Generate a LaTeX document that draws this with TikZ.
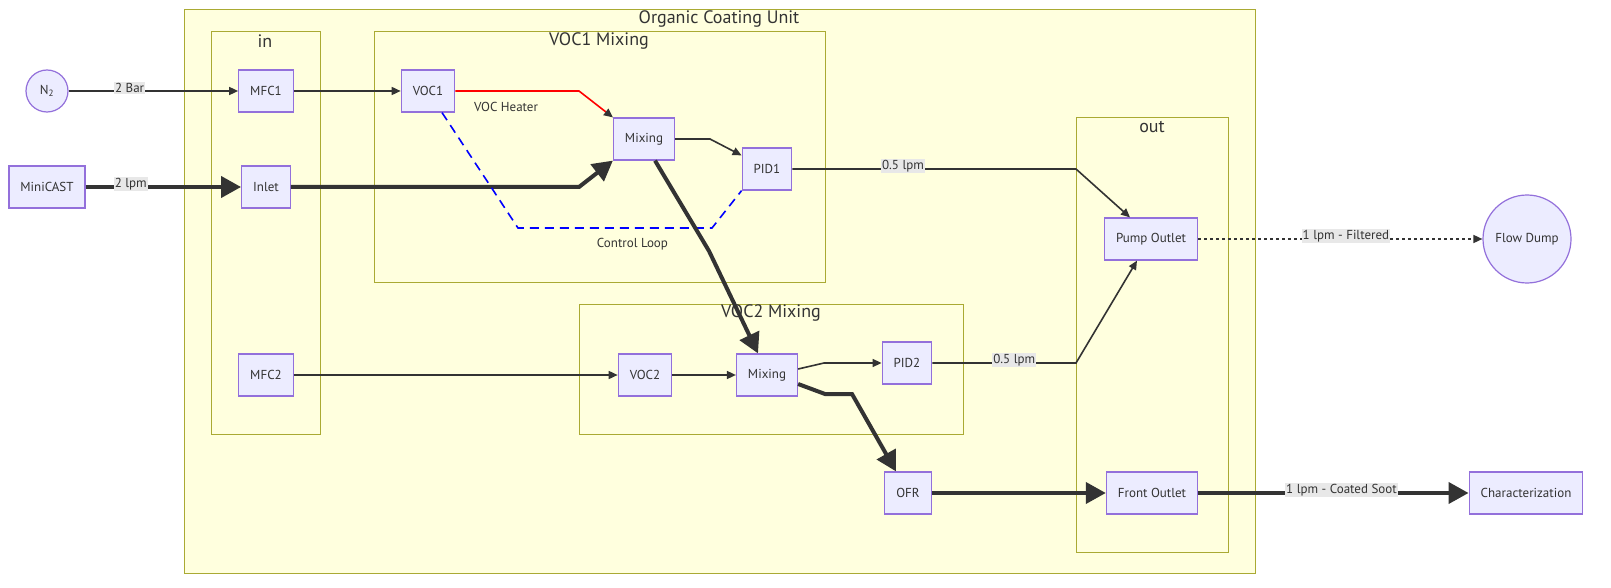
\documentclass[tikz,border=0pt]{standalone}
\usepackage{fontspec}
\setmainfont{PT Sans}
\usetikzlibrary{arrows.meta}
\definecolor{nodefill}{HTML}{ECECFF}
\definecolor{nodeline}{HTML}{9370DB}
\definecolor{unitfill}{HTML}{FFFFDE}
\definecolor{unitline}{HTML}{AAAA33}
\definecolor{edgegray}{HTML}{333333}
\definecolor{labelbg}{HTML}{E8E8E8}
\tikzset{%
        x = 1pt,
        y = -1pt,
        font = \fontsize{13}{15}\selectfont,
        text = edgegray
}
\tikzstyle{box}=[
    draw = nodeline,
    fill = nodefill,
    line width = 1.2pt,
    minimum height = 42pt,
    inner xsep = 11.5pt
]
\tikzstyle{round box}=[
    box,
    circle,
    inner sep = 0pt
]
\tikzstyle{unit}=[
    draw = unitline,
    fill = unitfill,
    line width = 0.9pt
]
\tikzstyle{unit title}=[
    font = \fontsize{18}{21}\selectfont
]
\tikzstyle{flow}=[
    draw = edgegray,
    line width = 1.6pt,
    -{Triangle[length=9pt,width=8pt]}
]
\tikzstyle{fat flow}=[
    flow,
    line width = 4pt,
    -{Triangle[length=20pt,width=21pt]}
]
\tikzstyle{lbl}=[
    fill = labelbg,
    inner sep = 1pt,
    yshift = 3pt
]

\begin{document}
\begin{tikzpicture}
        \useasboundingbox[fill=white] (0,0) rectangle (1611,588);
        \draw[unit] (184,9) rectangle (1255,573);
        \node[unit title] (t0) at (719,19) {Organic Coating Unit};
        \draw[unit] (211,31) rectangle (320,434);
        \node[unit title] (t1) at (265,41) {in};
        \draw[unit] (374,31) rectangle (825,282);
        \node[unit title] (t2) at (599,41) {VOC1 Mixing};
        \draw[unit] (579,304) rectangle (963,434);
        \node[unit title] (t3) at (771,313) {VOC2 Mixing};
        \draw[unit] (1076,117) rectangle (1228,552);
        \node[unit title] (t4) at (1152,127) {out};

        \node[round box, minimum size=42pt] (n2) at (47,91) {N\textsubscript{2}};
        \node[box] (minicast) at (47,187) {MiniCAST};
        \node[box] (mfc1) at (266,91) {MFC1};
        \node[box] (inlet) at (266,187) {Inlet};
        \node[box] (mfc2) at (266,375) {MFC2};
        \node[box] (voc1) at (428,91) {VOC1};
        \node[box] (mixa) at (644,139) {Mixing};
        \node[box] (pida) at (767,169) {PID1};
        \node[box] (voc2) at (645,375) {VOC2};
        \node[box] (mixb) at (767,375) {Mixing};
        \node[box] (pidb) at (907,363) {PID2};
        \node[box] (ofr) at (908,493) {OFR};
        \node[box] (pump) at (1151,239) {Pump Outlet};
        \node[box] (front) at (1152,493) {Front Outlet};
        \node[round box, minimum size=88pt] (dump) at (1527,239) {Flow Dump};
        \node[box] (charac) at (1526,493) {Characterization};

        \draw[flow] (n2) -- node[lbl, pos=0.36] {2 Bar} (mfc1);
        \draw[fat flow] (minicast) -- node[lbl, pos=0.29] {2 lpm} (inlet);
        \draw[flow] (mfc1) -- (voc1);
        \draw[flow, draw=red, -{Triangle[length=9pt,width=8pt,color=edgegray]}]
          (voc1.east) -- node[pos=0.41, below=7pt] {VOC Heater} (579,91) -- (mixa.north west);
        \draw[fat flow] (inlet) -- (579,187) -- (mixa.south west);
        \draw[flow] (mixa.east) -- (710,139) -- ([yshift=-8pt]pida.north west);
        \draw[draw=blue, line width=1.6pt, dash pattern=on 9pt off 6pt]
          ([xshift=14pt]voc1.south) -- (518,228)
          -- node[pos=0.59, below=6pt] {Control Loop} (712,228) -- (pida.south west);
        \draw[flow] (pida.east) -- node[lbl, pos=0.39] {0.5 lpm} (1076,169)
          -- ([xshift=-21pt]pump.north);
        \draw[fat flow] ([xshift=11pt]mixa.south) -- (709,251) -- ([xshift=-9pt]mixb.north);
        \draw[flow] (mfc2) -- (voc2);
        \draw[flow] (voc2) -- (mixb);
        \draw[flow] ([yshift=6pt]mixb.east) -- (824,363) -- (pidb.west);
        \draw[fat flow] ([yshift=-9pt]mixb.east) -- (825,394) -- (852,394)
          -- ([xshift=-12pt]ofr.north);
        \draw[flow] (pidb.east) -- node[lbl, pos=0.57] {0.5 lpm} (1076,363)
          -- ([xshift=-14pt]pump.south);
        \draw[fat flow] (ofr) -- (front);
        \draw[flow, dash pattern=on 3pt off 3pt] (pump) -- node[lbl, pos=0.52] {1 lpm - Filtered} (dump);
        \draw[fat flow] (front) -- node[lbl, pos=0.53] {1 lpm - Coated Soot} (charac);
    \end{tikzpicture}
\end{document}
